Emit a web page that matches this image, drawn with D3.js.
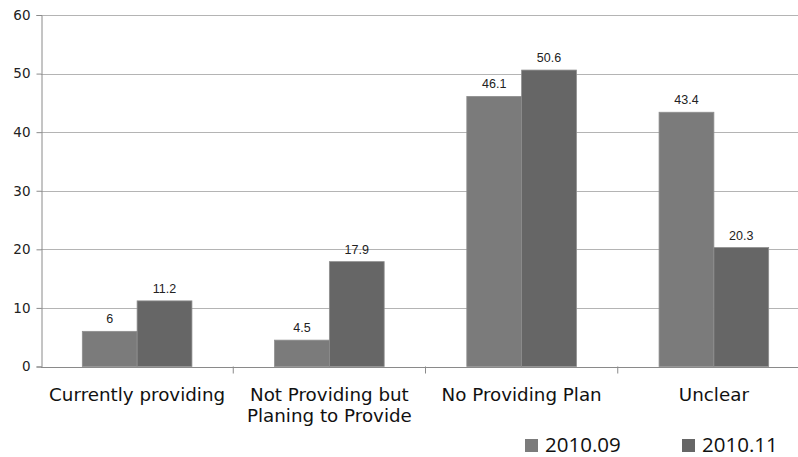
<!DOCTYPE html>
<html>
<head>
<meta charset="utf-8">
<script src="https://cdn.jsdelivr.net/npm/d3@7"></script>
<style>
  html, body { margin: 0; padding: 0; background: #fff; overflow: hidden; }
  svg { display: block; }
</style>
</head>
<body>
<svg id="chart" width="798" height="457"></svg>
<script>
// Survey responses by status, two survey waves
const categories = [
  ["Currently providing"],
  ["Not Providing but", "Planing to Provide"],
  ["No Providing Plan"],
  ["Unclear"]
];
const seriesNames = ["2010.09", "2010.11"];
const values2010_09 = [6, 4.5, 46.1, 43.4];
const values2010_11 = [11.2, 17.9, 50.6, 20.3];
const yTicks = [0, 10, 20, 30, 40, 50, 60];
const seriesColors = ["#7b7b7b", "#666666"];

const svg = d3.select("#chart");
const plot = { left: 41, right: 810, top: 15, bottom: 366.5 };

const x = d3.scaleBand()
  .domain(d3.range(categories.length))
  .range([plot.left, plot.right]);

const y = d3.scaleLinear().domain([0, 60]).range([plot.bottom, plot.top]);

const barW = 54.8;
const series = [values2010_09, values2010_11];

// horizontal gridlines
svg.append("g")
  .selectAll("line")
  .data(yTicks.filter(t => t > 0))
  .join("line")
  .attr("x1", plot.left).attr("x2", plot.right)
  .attr("y1", d => Math.round(y(d)) + 0.5).attr("y2", d => Math.round(y(d)) + 0.5)
  .attr("stroke", "#b4b4b4").attr("stroke-width", 1);

// bars with value labels
series.forEach((vals, si) => {
  svg.append("g")
    .selectAll("rect")
    .data(vals)
    .join("rect")
    .attr("x", (d, i) => x(i) + x.bandwidth() / 2 + (si - 1) * barW)
    .attr("width", barW)
    .attr("y", d => y(d))
    .attr("height", d => y(0) - y(d))
    .attr("fill", seriesColors[si])
    .attr("stroke", "#8e8e8e")
    .attr("stroke-width", 0.8);

  svg.append("g")
    .selectAll("text")
    .data(vals)
    .join("text")
    .attr("x", (d, i) => x(i) + x.bandwidth() / 2 + (si - 0.5) * barW)
    .attr("y", d => y(d) - 8)
    .attr("text-anchor", "middle")
    .attr("font-family", "'Liberation Sans', Arial, sans-serif")
    .attr("font-size", 12.5)
    .attr("fill", "#222")
    .text(d => d);
});

// y axis
const yAxis = svg.append("g")
  .attr("transform", `translate(${plot.left + 0.5},0)`)
  .call(d3.axisLeft(y).tickValues(yTicks).tickSize(5).tickPadding(6).tickFormat(d3.format("d")));
yAxis.select(".domain").attr("stroke", "#8a8a8a");
yAxis.selectAll(".tick line").attr("stroke", "#8a8a8a");
yAxis.selectAll(".tick text")
  .attr("font-family", "'DejaVu Sans', sans-serif")
  .attr("font-size", 13.5)
  .attr("fill", "#222");

// x axis baseline with ticks at category boundaries
const xg = svg.append("g");
xg.append("line")
  .attr("x1", plot.left).attr("x2", plot.right)
  .attr("y1", Math.round(y(0)) + 0.5).attr("y2", Math.round(y(0)) + 0.5)
  .attr("stroke", "#8a8a8a");
xg.selectAll("line.sep")
  .data(d3.range(1, categories.length + 1))
  .join("line")
  .attr("class", "sep")
  .attr("x1", i => x(i) !== undefined ? x(i) : plot.right)
  .attr("x2", i => x(i) !== undefined ? x(i) : plot.right)
  .attr("y1", y(0)).attr("y2", y(0) + 7)
  .attr("stroke", "#8a8a8a");

// category labels
categories.forEach((lines, i) => {
  const t = svg.append("text")
    .attr("text-anchor", "middle")
    .attr("font-family", "'DejaVu Sans', sans-serif")
    .attr("font-size", 18.3)
    .attr("fill", "#111");
  lines.forEach((ln, k) => {
    t.append("tspan")
      .attr("x", x(i) + x.bandwidth() / 2)
      .attr("y", 401 + k * 21)
      .text(ln);
  });
});

// legend
const legendX = [525, 682];
seriesNames.forEach((name, si) => {
  const g = svg.append("g").attr("transform", `translate(${legendX[si]},439)`);
  g.append("rect").attr("width", 13).attr("height", 13).attr("fill", seriesColors[si]);
  g.append("text")
    .attr("x", 20).attr("y", 13)
    .attr("font-family", "'Open Sans', 'Noto Sans', sans-serif")
    .attr("font-size", 20.5)
    .attr("fill", "#111")
    .text(name);
});
</script>
</body>
</html>
